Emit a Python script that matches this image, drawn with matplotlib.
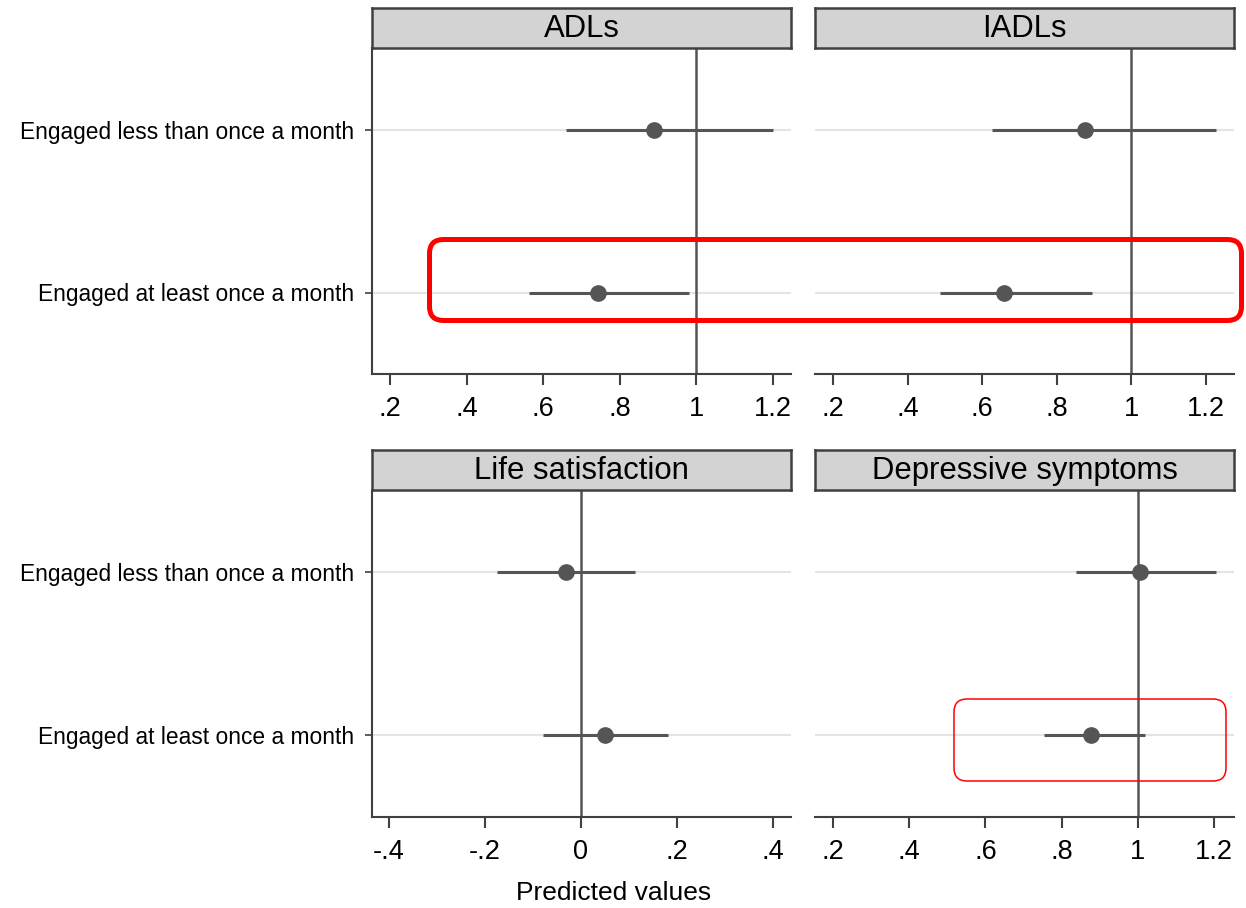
import numpy as np
import matplotlib
matplotlib.use("Agg")
import matplotlib.pyplot as plt
from matplotlib.patches import FancyBboxPatch

plt.rcParams['font.family'] = ['Liberation Sans', 'DejaVu Sans']

# rows and panels
rows = ["Engaged less than once a month", "Engaged at least once a month"]
titles = ["ADLs", "IADLs", "Life satisfaction", "Depressive symptoms"]

# predicted values with 95% CI, one list per panel
adl_est = [0.889, 0.743]
adl_lo = [0.660, 0.563]
adl_hi = [1.200, 0.981]

iadl_est = [0.876, 0.658]
iadl_lo = [0.626, 0.487]
iadl_hi = [1.227, 0.894]

life_est = [-0.031, 0.050]
life_lo = [-0.175, -0.079]
life_hi = [0.113, 0.181]

dep_est = [1.006, 0.877]
dep_lo = [0.838, 0.754]
dep_hi = [1.205, 1.019]

ref_lines = [1, 1, 0, 1]
xticks = [[.2, .4, .6, .8, 1, 1.2], [.2, .4, .6, .8, 1, 1.2],
          [-.4, -.2, 0, .2, .4], [.2, .4, .6, .8, 1, 1.2]]
xlims = [(0.153, 1.247), (0.152, 1.275), (-0.435, 0.4375), (0.153, 1.252)]

est = [adl_est, iadl_est, life_est, dep_est]
lo = [adl_lo, iadl_lo, life_lo, dep_lo]
hi = [adl_hi, iadl_hi, life_hi, dep_hi]


def stata_fmt(v):
    s = f"{v:g}"
    if s.startswith("0."):
        s = s[1:]
    elif s.startswith("-0."):
        s = "-" + s[2:]
    return s


W, H = 1246, 908
fig = plt.figure(figsize=(W / 100, H / 100), dpi=100)

# axes boxes in pixels: (left, right, top, bottom), strip height
boxes = [(372, 791, 48, 374), (815, 1234, 48, 374),
         (372, 791, 490, 817), (815, 1234, 490, 817)]
strip_h = 40

dark = "#555555"
frame = "#404040"

for i, (l, r, t, b) in enumerate(boxes):
    ax = fig.add_axes([l / W, 1 - b / H, (r - l) / W, (b - t) / H])
    y = np.arange(len(rows))
    for yy in y:
        ax.axhline(yy, color="#e4e4e4", lw=1.5, zorder=1)
    ax.axvline(ref_lines[i], color=dark, lw=1.8, zorder=2)
    e = np.array(est[i])
    ax.hlines(y, lo[i], hi[i], color=dark, lw=2.2, zorder=3)
    ax.plot(e, y, "o", color=dark, ms=11, zorder=4)
    ax.set_ylim(1.5, -0.5)
    ax.set_xlim(*xlims[i])
    ax.set_xticks(xticks[i])
    ax.set_xticklabels([stata_fmt(v) for v in xticks[i]])
    ax.tick_params(axis="x", length=8, width=1.5, color=frame,
                   labelsize=19.5, pad=8)
    for s in ["top", "right"]:
        ax.spines[s].set_visible(False)
    ax.spines["bottom"].set_color(frame)
    ax.spines["bottom"].set_linewidth(1.5)
    if i % 2 == 0:
        ax.spines["left"].set_color(frame)
        ax.spines["left"].set_linewidth(1.5)
        ax.set_yticks(y)
        ax.set_yticklabels(rows)
        ax.tick_params(axis="y", length=5, width=1.2, color=frame,
                       labelsize=16.4, pad=8)
    else:
        ax.spines["left"].set_visible(False)
        ax.set_yticks([])

    # header strip
    sa = fig.add_axes([l / W, 1 - t / H, (r - l) / W, strip_h / H])
    sa.set_facecolor("#d3d3d3")
    sa.set_xticks([])
    sa.set_yticks([])
    for s in sa.spines.values():
        s.set_color(frame)
        s.set_linewidth(1.8)
    sa.text(0.5, 0.47, titles[i], ha="center", va="center",
            fontsize=22.4, transform=sa.transAxes)

fig.text(614 / W, 1 - 893 / H, "Predicted values", ha="center",
         va="center", fontsize=19)

# highlight boxes, in inches from bottom-left of the figure
highlights = [((4.295, 9.08 - 3.205), 8.12, 0.81, 3.6, 0.14),
              ((9.54, 9.08 - 7.81), 2.72, 0.82, 1.1, 0.13)]
for (x0, y0), w, h, lw, rad in highlights:
    p = FancyBboxPatch((x0, y0), w, h,
                       boxstyle=f"round,pad=0,rounding_size={rad}",
                       transform=fig.dpi_scale_trans, fill=False,
                       edgecolor="#ff0000", lw=lw, zorder=10)
    fig.add_artist(p)

fig.savefig("out.png", dpi=100)
